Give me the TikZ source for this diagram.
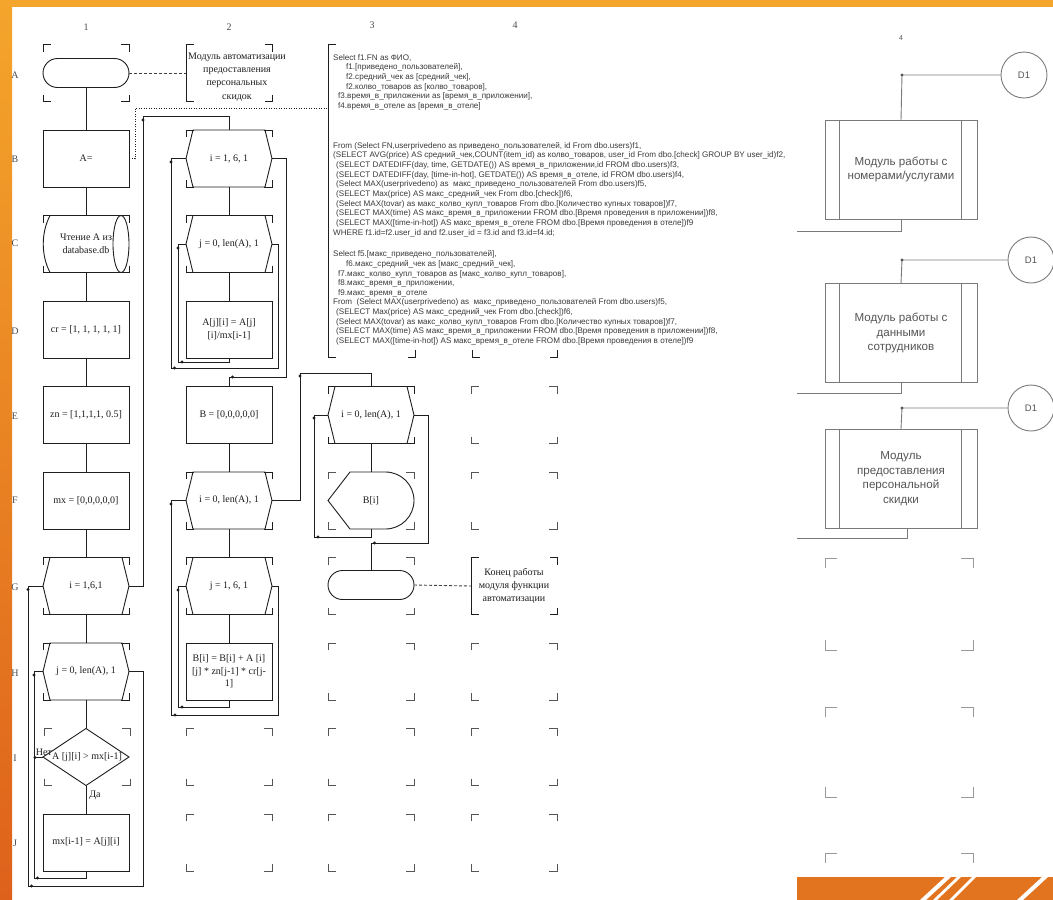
\documentclass[tikz,border=0pt]{standalone}
\usepackage{fontspec}
\setmainfont{Liberation Serif}
\newfontfamily\sqlf{Liberation Sans}
\usetikzlibrary{calc}
\definecolor{ln}{HTML}{1E1E1E}
\definecolor{mkc}{HTML}{555555}
\definecolor{orT}{HTML}{F4A52B}
\definecolor{orB}{HTML}{DE611B}
\definecolor{orS}{HTML}{E3741F}
\definecolor{rp}{HTML}{7A7A7A}
\definecolor{rtxt}{HTML}{555555}
\definecolor{sqlc}{HTML}{3A3A3A}
\tikzset{
 cellbox/.style={minimum width=86pt, minimum height=57pt, inner sep=0pt, outer sep=0pt, align=center, font=\fontsize{10}{13}\selectfont, text=ln},
 proc/.style={cellbox, draw=ln, line width=0.9pt},
 term/.style={draw=ln, line width=0.9pt, rounded corners=14.5pt, minimum width=86pt, minimum height=29pt, inner sep=0pt, outer sep=0pt},
 conn/.style={draw=ln, line width=0.9pt},
 shp/.style={draw=ln, line width=0.9pt},
 mkdark/.style={draw=ln, line width=0.9pt},
 mkgray/.style={draw=mkc, line width=0.9pt},
 mkright/.style={draw=black!40, line width=0.9pt},
 lbl/.style={font=\fontsize{10}{12}\selectfont, text=black!70, inner sep=0pt},
 txt/.style={font=\fontsize{10}{13.2}\selectfont, text=ln, align=center, inner sep=0pt},
 sqltext/.style={font=\sqlf\fontsize{8.1}{9.65}\selectfont, text=sqlc, align=left, inner sep=0pt, anchor=north west},
 modbox/.style={draw=rp, line width=1pt, minimum width=152pt, minimum height=99pt, inner sep=0pt, outer sep=0pt, align=center, font=\sqlf\fontsize{11.6}{14.5}\selectfont, text=rtxt},
 dcirc/.style={circle, draw=rp, line width=0.9pt, minimum size=46pt, inner sep=0pt, font=\sqlf\fontsize{9.5}{11}\selectfont, text=rtxt},
 rconn/.style={draw=rp, line width=0.9pt},
 annot/.style={dash pattern=on 3pt off 2pt, draw=ln!85, line width=0.9pt},
 dotl/.style={dash pattern=on 1pt off 1.5pt, draw=ln, line width=0.8pt},
}
\newcommand{\cellmarks}[2]{%
 \draw[#2] ([yshift=-7pt]#1.north west) -- (#1.north west) -- ([xshift=8pt]#1.north west);
 \draw[#2] ([yshift=-7pt]#1.north east) -- (#1.north east) -- ([xshift=-8pt]#1.north east);
 \draw[#2] ([yshift=7pt]#1.south west) -- (#1.south west) -- ([xshift=8pt]#1.south west);
 \draw[#2] ([yshift=7pt]#1.south east) -- (#1.south east) -- ([xshift=-8pt]#1.south east);}
\newcommand{\cellmarksR}[1]{%
 \draw[mkright] ([yshift=-10pt]#1.north west) -- (#1.north west) -- ([xshift=12pt]#1.north west);
 \draw[mkright] ([yshift=-10pt]#1.north east) -- (#1.north east) -- ([xshift=-12pt]#1.north east);
 \draw[mkright] ([yshift=10pt]#1.south west) -- (#1.south west) -- ([xshift=12pt]#1.south west);
 \draw[mkright] ([yshift=10pt]#1.south east) -- (#1.south east) -- ([xshift=-12pt]#1.south east);}
\newcommand{\hexnode}[4]{%
 \node[cellbox] (#1) at (#2,#3) {#4};
 \draw[shp] ([xshift=7pt]#1.north west) -- ([xshift=-7pt]#1.north east) -- (#1.east) -- ([xshift=-7pt]#1.south east) -- ([xshift=7pt]#1.south west) -- (#1.west) -- cycle;
 \cellmarks{#1}{mkdark}}
\newcommand{\jdot}[2]{\fill[ln] (#1,#2) circle (1.6pt);}
\newcommand{\annbracket}[1]{%
 \draw[mkdark] ([xshift=8pt]#1.north west) -- (#1.north west) -- (#1.south west) -- ([xshift=8pt]#1.south west);
 \draw[mkdark] ([xshift=-7pt]#1.north east) -- (#1.north east) -- ([yshift=-7pt]#1.north east);
 \draw[mkdark] ([xshift=-7pt]#1.south east) -- (#1.south east) -- ([yshift=7pt]#1.south east);}

\begin{document}
\begin{tikzpicture}[x=1pt,y=-1pt]
\useasboundingbox (0,0) rectangle (1053,900);
\clip (0,0) rectangle (1053,900);
\fill[white] (0,0) rectangle (1053,900);
\shade[top color=orT, bottom color=orB] (0,0) rectangle (12,900);
\fill[orT] (0,0) rectangle (1053,7);

% column and row labels
\node[lbl] (k1) at (86,27) {1};
\node[lbl] (k2) at (229,27) {2};
\node[lbl] (k3) at (372,25) {3};
\node[lbl] (k4) at (515,25) {4};
\node[lbl] (rA) at (15,75) {A};
\node[lbl] (rB) at (15,159) {B};
\node[lbl] (rC) at (15,243) {C};
\node[lbl] (rD) at (15,331) {D};
\node[lbl] (rE) at (15,416) {E};
\node[lbl] (rF) at (15,500) {F};
\node[lbl] (rG) at (15,587) {G};
\node[lbl] (rH) at (15,673) {H};
\node[lbl] (rI) at (15,758) {I};
\node[lbl] (rJ) at (15,843) {J};

% ---------- column 1
\node[term] (nA1) at (86,73) {};
\node[cellbox] (cA1) at (86,73) {};
\cellmarks{cA1}{mkdark}
\node[proc] (nB1) at (86,158.5) {A=};
\node[cellbox] (nC1) at (86,244) {Чтение A из\\database.db};
\draw[shp] (50,215.5) -- (121,215.5) (50,272.5) -- (121,272.5);
\draw[shp] (50,215.5) .. controls (41,233) and (41,255) .. (50,272.5);
\draw[shp] (121,244) ellipse [x radius=8pt, y radius=28.5pt];
\cellmarks{nC1}{mkdark}
\node[proc] (nD1) at (86,329.5) {cr = [1, 1, 1, 1, 1]};
\node[proc] (nE1) at (86,415) {zn = [1,1,1,1, 0.5]};
\node[proc] (nF1) at (86,500.5) {mx = [0,0,0,0,0]};
\hexnode{nG1}{86}{586}{i = 1,6,1}
\hexnode{nH1}{86}{671.5}{j = 0, len(A), 1}
\node[cellbox] (nI1) at (87,757) {A [j][i] > mx[i-1]};
\draw[shp] (86,728.5) -- (129,757) -- (86,785.5) -- (43,757) -- cycle;
\cellmarks{nI1}{mkgray}
\node[proc] (nJ1) at (86,842.5) {mx[i-1] = A[j][i]};
\node[lbl, text=ln] (tNo) at (44,752) {Нет};
\node[lbl, text=ln] (tYes) at (95,795) {Да};

% ---------- column 2
\node[cellbox] (nA2) at (229,73) {};
\annbracket{nA2}
\node[txt] (tA2) at (237,77) {Модуль автоматизации\\предоставления\\персональных\\скидок};
\hexnode{nB2}{229}{158.5}{i = 1, 6, 1}
\hexnode{nC2}{229}{244}{j = 0, len(A), 1}
\node[proc] (nD2) at (229,329.5) {A[j][i] = A[j]\\{}[i]/mx[i-1]};
\node[proc] (nE2) at (229,415) {B = [0,0,0,0,0]};
\hexnode{nF2}{229}{500.5}{i = 0, len(A), 1}
\hexnode{nG2}{229}{586}{j = 1, 6, 1}
\node[proc, font=\fontsize{10}{12.5}\selectfont] (nH2) at (229,671.5) {B[i] = B[i] + A [i]\\{}[j] * zn[j-1] * cr[j-\\1]};
\node[cellbox] (eI2) at (229,757) {};
\cellmarks{eI2}{mkgray}
\node[cellbox] (eJ2) at (229,842.5) {};
\cellmarks{eJ2}{mkgray}

% ---------- column 3
\node[minimum width=229pt, minimum height=313pt, inner sep=0pt, outer sep=0pt] (nSQL) at (442.5,200.5) {};
\draw[mkdark] ([xshift=8pt]nSQL.north west) -- (nSQL.north west) -- (nSQL.south west) -- ([xshift=8pt]nSQL.south west);
\draw[mkdark] (408,357) -- (415,357) -- (415,350);
\draw[mkdark] (472,350) -- (472,357) -- (480,357);
\draw[mkdark] (550,357) -- (557,357) -- (557,350);
\coordinate (sqlin) at (328,108);
\node[sqltext] (sq1) at (333,54) {Select f1.FN as ФИО,\\
\hspace*{13pt}f1.[приведено\_пользователей],\\
\hspace*{13pt}f2.средний\_чек as [средний\_чек],\\
\hspace*{13pt}f2.колво\_товаров as [колво\_товаров],\\
\hspace*{5pt}f3.время\_в\_приложении as [время\_в\_приложении],\\
\hspace*{5pt}f4.время\_в\_отеле as [время\_в\_отеле]};
\node[sqltext] (sq2) at (333,142) {From (Select FN,userprivedeno as приведено\_пользователей, id From dbo.users)f1,\\
(SELECT AVG(price) AS средний\_чек,COUNT(item\_id) as колво\_товаров, user\_id From dbo.[check] GROUP BY user\_id)f2,\\
\hspace*{3pt}(SELECT DATEDIFF(day, time, GETDATE()) AS время\_в\_приложении,id FROM dbo.users)f3,\\
\hspace*{3pt}(SELECT DATEDIFF(day, [time-in-hot], GETDATE()) AS время\_в\_отеле, id FROM dbo.users)f4,\\
\hspace*{3pt}(Select MAX(userprivedeno) as \ макс\_приведено\_пользователей From dbo.users)f5,\\
\hspace*{3pt}(SELECT Max(price) AS макс\_средний\_чек From dbo.[check])f6,\\
\hspace*{3pt}(Select MAX(tovar) as макс\_колво\_купл\_товаров From dbo.[Количество купных товаров])f7,\\
\hspace*{3pt}(SELECT MAX(time) AS макс\_время\_в\_приложении FROM dbo.[Время проведения в приложении])f8,\\
\hspace*{3pt}(SELECT MAX([time-in-hot]) AS макс\_время\_в\_отеле FROM dbo.[Время проведения в отеле])f9\\
WHERE f1.id=f2.user\_id and f2.user\_id = f3.id and f3.id=f4.id;};
\node[sqltext] (sq3) at (333,250.5) {Select f5.[макс\_приведено\_пользователей],\\
\hspace*{13pt}f6.макс\_средний\_чек as [макс\_средний\_чек],\\
\hspace*{5pt}f7.макс\_колво\_купл\_товаров as [макс\_колво\_купл\_товаров],\\
\hspace*{5pt}f8.макс\_время\_в\_приложении,\\
\hspace*{5pt}f9.макс\_время\_в\_отеле\\
From \ (Select MAX(userprivedeno) as \ макс\_приведено\_пользователей From dbo.users)f5,\\
\hspace*{3pt}(SELECT Max(price) AS макс\_средний\_чек From dbo.[check])f6,\\
\hspace*{3pt}(Select MAX(tovar) as макс\_колво\_купл\_товаров From dbo.[Количество купных товаров])f7,\\
\hspace*{3pt}(SELECT MAX(time) AS макс\_время\_в\_приложении FROM dbo.[Время проведения в приложении])f8,\\
\hspace*{3pt}(SELECT MAX([time-in-hot]) AS макс\_время\_в\_отеле FROM dbo.[Время проведения в отеле])f9};

\hexnode{nE3}{371}{415}{i = 0, len(A), 1}
\node[cellbox] (nF3) at (371,500.5) {B[i]};
\draw[shp] ([xshift=22pt]nF3.north west) -- ([xshift=-28.5pt]nF3.north east) arc[start angle=90, end angle=-90, radius=28.5pt] -- ([xshift=22pt]nF3.south west) -- (nF3.west) -- cycle;
\cellmarks{nF3}{mkgray}
\node[term] (nG3) at (371,585) {};
\node[cellbox] (cG3) at (371,586) {};
\cellmarks{cG3}{mkgray}
\node[cellbox] (eH3) at (371,671.5) {};
\cellmarks{eH3}{mkgray}
\node[cellbox] (eI3) at (371,757) {};
\cellmarks{eI3}{mkgray}
\node[cellbox] (eJ3) at (371,842.5) {};
\cellmarks{eJ3}{mkgray}

% ---------- column 4
\node[cellbox] (eE4) at (514,415) {};
\cellmarks{eE4}{mkgray}
\node[cellbox] (eF4) at (514,500.5) {};
\cellmarks{eF4}{mkgray}
\node[cellbox] (nG4) at (514,586) {};
\annbracket{nG4}
\node[txt] (tG4) at (514,586) {Конец работы\\модуля функции\\автоматизации};
\node[cellbox] (eH4) at (514,671.5) {};
\cellmarks{eH4}{mkgray}
\node[cellbox] (eI4) at (514,757) {};
\cellmarks{eI4}{mkgray}
\node[cellbox] (eJ4) at (514,842.5) {};
\cellmarks{eJ4}{mkgray}

% ---------- connectors column 1
\draw[annot] (nA1.east) -- (nA2.west);
\draw[conn] (nA1.south) -- (nB1.north);
\draw[dotl] (nB1.east) -| (135,108) -- (sqlin);
\draw[conn] (nB1.south) -- (nC1.north);
\draw[conn] (nC1.south) -- (nD1.north);
\draw[conn] (nD1.south) -- (nE1.north);
\draw[conn] (nE1.south) -- (nF1.north);
\draw[conn] (nF1.south) -- (nG1.north);
\draw[conn] (nG1.south) -- (nH1.north);
\draw[conn] (nH1.south) -- (86,728.5);
\draw[conn] (86,785.5) -- (nJ1.north);
\draw[conn] (43,757) -- (34,757);
\draw[conn] (nJ1.south) |- (34,878) |- (nH1.west);
\draw[conn] (nH1.east) -| (143,886) -| (28,586) -- (nG1.west);
\draw[conn] (nG1.east) -| (143,116) -| (nB2.north);
\jdot{28}{589.5}\jdot{31.5}{886}\jdot{34}{675}\jdot{37.5}{878}\jdot{35}{757.5}\jdot{143}{120}

% ---------- connectors column 2
\draw[conn] (nB2.south) -- (nC2.north);
\draw[conn] (nC2.south) -- (nD2.north);
\draw[conn] (nD2.south) |- (178,362) |- (nC2.west);
\draw[conn] (nC2.east) -| (278,368) -| (171,158.5) -- (nB2.west);
\draw[conn] (nB2.east) -| (286,377) -| (nE2.north);
\draw[conn] (nE2.south) -- (nF2.north);
\draw[conn] (nF2.south) -- (nG2.north);
\draw[conn] (nG2.south) -- (nH2.north);
\draw[conn] (nH2.south) |- (178,707) |- (nG2.west);
\draw[conn] (nG2.east) -| (278,715) -| (171,500.5) -- (nF2.west);
\draw[conn] (nF2.east) -| (300,373) -| (nE3.north);
\jdot{171}{162}\jdot{174.5}{368}\jdot{178}{248}\jdot{182}{362}\jdot{232.5}{377}
\jdot{171}{504}\jdot{175}{715}\jdot{178}{590}\jdot{182}{707}\jdot{300}{376}

% ---------- connectors column 3
\draw[conn] (nE3.south) -- (nF3.north);
\draw[conn] (nF3.south) |- (314,537) |- (nE3.west);
\draw[conn] (nE3.east) -| (428,543) -| (nG3.north);
\draw[annot] (nG3.east) -- (nG4.west);
\jdot{314}{418}\jdot{318}{537}\jdot{374.5}{543}

% ---------- right panel
\node[font=\sqlf\fontsize{7}{8}\selectfont, text=rtxt, inner sep=0pt] (r4) at (901,38) {4};
\node[dcirc] (cD1a) at (1024,75) {D1};
\node[dcirc] (cD1b) at (1031,260) {D1};
\node[dcirc] (cD1c) at (1031,408) {D1};
\node[modbox] (m1) at (901,169.5) {Модуль работы с\\номерами/услугами};
\node[modbox] (m2) at (901,333) {Модуль работы с\\данными\\сотрудников};
\node[modbox] (m3) at (901,478.5) {Модуль\\предоставления\\персональной\\скидки};
\foreach \m in {m1,m2,m3}{
 \draw[rconn] ([xshift=14pt]\m.north west) -- ([xshift=14pt]\m.south west);
 \draw[rconn] ([xshift=-16pt]\m.north east) -- ([xshift=-16pt]\m.south east);}
\coordinate (o1) at (797,231);
\coordinate (o2) at (797,393);
\coordinate (o3) at (797,538);
\draw[rconn] (cD1a.west) -- (902,75) -- (m1.north);
\draw[rconn] (m1.south) |- (o1);
\draw[rconn] (cD1b.west) -- (902,260) -- (m2.north);
\draw[rconn] (m2.south) |- (o2);
\draw[rconn] (cD1c.west) -- (902,408) -- (m3.north);
\draw[rconn] ([xshift=6pt]m3.south) |- (o3);
\fill[rp!70!black] (902,75) circle (1.7pt) (902,260) circle (1.7pt) (902,408) circle (1.7pt);
\node[minimum width=148pt, minimum height=92pt, inner sep=0pt, outer sep=0pt] (rc1) at (899,604) {};
\cellmarksR{rc1}
\node[minimum width=148pt, minimum height=90pt, inner sep=0pt, outer sep=0pt] (rc2) at (899,752) {};
\cellmarksR{rc2}
\node[minimum width=148pt, minimum height=90pt, inner sep=0pt, outer sep=0pt] (rc3) at (899,898) {};
\cellmarksR{rc3}

% bottom-right orange strip
\fill[orS] (797,877) rectangle (1053,900);
\fill[white] (920,900) -- (926,900) -- (951,877) -- (945,877) -- cycle;
\fill[white] (933,900) -- (937,900) -- (961,877) -- (957,877) -- cycle;
\fill[white] (949,900) -- (953,900) -- (976,877) -- (972,877) -- cycle;
\fill[white] (1017,900) -- (1023,900) -- (1048,877) -- (1042,877) -- cycle;
\end{tikzpicture}
\end{document}
